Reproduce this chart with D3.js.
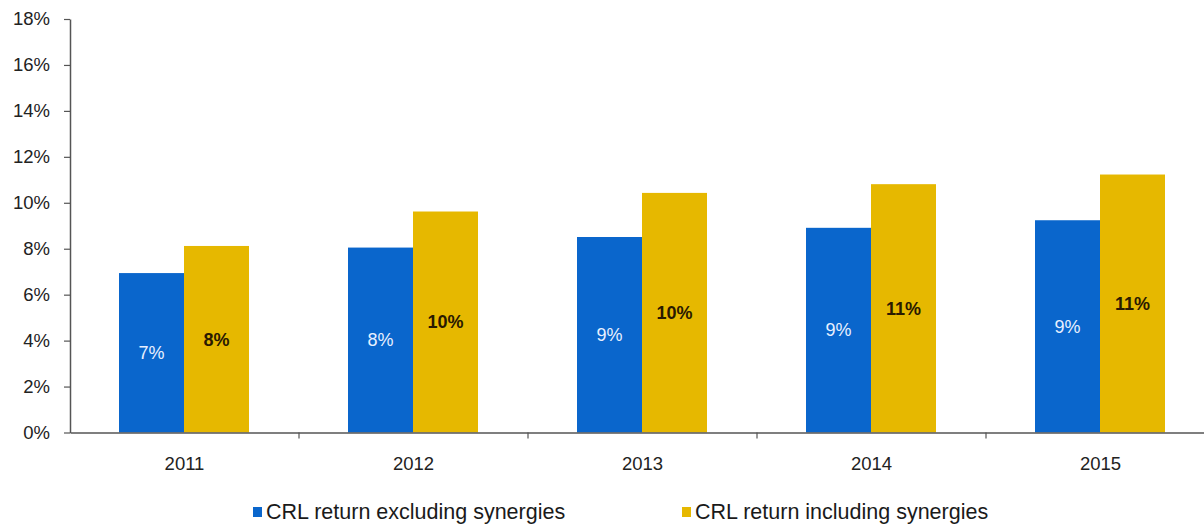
<!DOCTYPE html>
<html>
<head>
<meta charset="utf-8">
<script src="https://cdn.jsdelivr.net/npm/d3@7"></script>
<style>
  body { margin: 0; background: #fff; }
  svg { display: block; font-family: "Liberation Sans", Arial, sans-serif; }
</style>
</head>
<body>
<script>
// Datos
const years = ["2011", "2012", "2013", "2014", "2015"];
const excluding = [6.94, 8.05, 8.51, 8.91, 9.24];
const including = [8.12, 9.62, 10.43, 10.81, 11.23];
const excludingLabels = ["7%", "8%", "9%", "9%", "9%"];
const includingLabels = ["8%", "10%", "10%", "11%", "11%"];
const yTicks = [0, 2, 4, 6, 8, 10, 12, 14, 16, 18];
const seriesNames = ["CRL return excluding synergies", "CRL return including synergies"];

const WIDTH = 1204;
const HEIGHT = 526;
const MARGIN = { top: 19, left: 70, bottom: 94 };
const BLUE = "#0a66cc";
const YELLOW = "#e6b800";

const svg = d3.select("body").append("svg")
  .attr("width", WIDTH)
  .attr("height", HEIGHT);

const y = d3.scaleLinear()
  .domain([0, 18])
  .range([HEIGHT - MARGIN.bottom + 0.5, MARGIN.top]);

const x = d3.scaleBand()
  .domain(years)
  .range([MARGIN.left, MARGIN.left + 5 * 229]);

const xSub = d3.scaleBand()
  .domain([0, 1])
  .range([49, 229 - 50]);

const datos = years.map((yr, i) => ({
  year: yr,
  valores: [
    { s: 0, v: excluding[i], label: excludingLabels[i] },
    { s: 1, v: including[i], label: includingLabels[i] },
  ],
}));

// Barras
const grupos = svg.append("g").selectAll("g")
  .data(datos)
  .join("g")
  .attr("transform", (d) => `translate(${x(d.year)},0)`);

grupos.selectAll("rect")
  .data((d) => d.valores)
  .join("rect")
  .attr("x", (d) => xSub(d.s))
  .attr("width", xSub.bandwidth())
  .attr("y", (d) => y(d.v))
  .attr("height", (d) => y(0) - y(d.v))
  .attr("fill", (d) => (d.s === 0 ? BLUE : YELLOW));

grupos.selectAll("text")
  .data((d) => d.valores)
  .join("text")
  .attr("x", (d) => xSub(d.s) + xSub.bandwidth() / 2)
  .attr("y", (d) => (y(d.v) + y(0)) / 2)
  .attr("dy", "0.35em")
  .attr("text-anchor", "middle")
  .attr("font-size", 18)
  .attr("font-weight", (d) => (d.s === 0 ? "normal" : "bold"))
  .attr("fill", (d) => (d.s === 0 ? "#e8f0ff" : "#2a1a00"))
  .text((d) => d.label);

// Eje Y
const ejeY = svg.append("g")
  .attr("transform", `translate(${MARGIN.left},0)`)
  .call(d3.axisLeft(y).tickValues(yTicks).tickFormat((d) => d + "%").tickSize(6).tickSizeOuter(0));
ejeY.select(".domain").attr("stroke", "#555").attr("stroke-width", 1.5);
ejeY.selectAll(".tick line").attr("stroke", "#555").attr("stroke-width", 1.2);
ejeY.selectAll(".tick text")
  .attr("x", -20)
  .attr("font-size", 18.5)
  .attr("fill", "#222")
  .attr("font-family", "Liberation Sans, Arial, sans-serif");

// Eje X
const ejeX = svg.append("g")
  .attr("transform", `translate(0,${y(0)})`)
  .call(d3.axisBottom(x).tickSize(0).tickSizeOuter(0));
ejeX.select(".domain").attr("stroke", "#555").attr("stroke-width", 1.5);
ejeX.selectAll(".tick text")
  .attr("y", 31)
  .attr("dy", "0.35em")
  .attr("font-size", 18.5)
  .attr("fill", "#222")
  .attr("font-family", "Liberation Sans, Arial, sans-serif");

// Marcas entre categorías
svg.append("g").selectAll("line")
  .data(years.slice(1))
  .join("line")
  .attr("x1", (d) => x(d))
  .attr("x2", (d) => x(d))
  .attr("y1", y(0))
  .attr("y2", y(0) + 6)
  .attr("stroke", "#555")
  .attr("stroke-width", 1.2);

// Leyenda
const leyendaX = [253, 682];
const leyenda = svg.append("g").selectAll("g")
  .data(seriesNames)
  .join("g")
  .attr("transform", (d, i) => `translate(${leyendaX[i]},511)`);
leyenda.append("rect")
  .attr("x", 0)
  .attr("y", -4)
  .attr("width", 9)
  .attr("height", 10)
  .attr("fill", (d, i) => (i === 0 ? BLUE : YELLOW));
leyenda.append("text")
  .attr("x", 13)
  .attr("dy", "0.35em")
  .attr("font-size", 21.5)
  .attr("fill", "#1a1a1a")
  .text((d) => d);
</script>
</body>
</html>
